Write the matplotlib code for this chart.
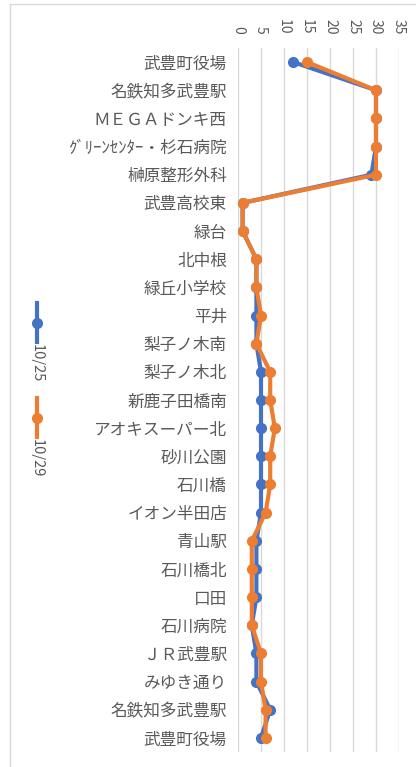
import matplotlib
matplotlib.use("Agg")
import matplotlib.pyplot as plt
from matplotlib.lines import Line2D

plt.rcParams['font.family'] = ['Noto Sans CJK JP', 'DejaVu Sans']

stops = ["武豊町役場", "名鉄知多武豊駅", "ＭＥＧＡドンキ西", "ｸﾞﾘｰﾝｾﾝﾀｰ・杉石病院",
         "榊原整形外科", "武豊高校東", "緑台", "北中根", "緑丘小学校", "平井",
         "梨子ノ木南", "梨子ノ木北", "新鹿子田橋南", "アオキスーパー北", "砂川公園",
         "石川橋", "イオン半田店", "青山駅", "石川橋北", "口田", "石川病院",
         "ＪＲ武豊駅", "みゆき通り", "名鉄知多武豊駅", "武豊町役場"]
v1025 = [12, 30, 30, 30, 29, 1, 1, 4, 4, 4, 4, 5, 5, 5, 5, 5, 5, 4, 4, 4, 3, 4, 4, 7, 5]
v1029 = [15, 30, 30, 30, 30, 1, 1, 4, 4, 5, 4, 7, 7, 8, 7, 7, 6, 3, 3, 3, 3, 5, 5, 6, 6]
series_names = ["10/25", "10/29"]
xticks = [0, 5, 10, 15, 20, 25, 30, 35]

W, H = 416, 767
fig = plt.figure(figsize=(W / 100, H / 100), dpi=100)
fig.patch.set_facecolor("white")

def fx(px):
    return px / W

def fy(py):
    return 1 - py / H

ax = fig.add_axes([fx(238), fy(752), fx(399) - fx(238), fy(48) - fy(752)])
ypos = list(range(len(stops)))
blue, orange = "#4472C4", "#ED7D31"
ax.plot(v1025, ypos, color=blue, lw=3, marker="o", ms=7, zorder=3, solid_joinstyle="round")
ax.plot(v1029, ypos, color=orange, lw=3, marker="o", ms=7, zorder=4, solid_joinstyle="round")

ax.set_xlim(0, 35)
ax.set_ylim(len(stops) - 0.5, -0.5)
ax.set_xticks(xticks)
ax.set_xticklabels([str(t) for t in xticks], rotation=-90, fontsize=10, color="#595959")
ax.xaxis.tick_top()
ax.tick_params(axis="x", length=0, pad=10)
ax.set_yticks(ypos)
ax.set_yticklabels(stops, fontsize=12, color="#595959")
ax.tick_params(axis="y", length=0, pad=8)
ax.grid(axis="x", color="#d9d9d9", lw=1)
ax.set_axisbelow(True)
for s in ax.spines.values():
    s.set_visible(False)

# chart border (partially cropped)
fig.add_artist(Line2D([fx(10), fx(W)], [fy(4), fy(4)], color="#d9d9d9", lw=1))
fig.add_artist(Line2D([fx(10), fx(10)], [fy(4), fy(H)], color="#d9d9d9", lw=1))

# rotated legend
for name, col, ytop in [(series_names[0], blue, 303), (series_names[1], orange, 398)]:
    fig.add_artist(Line2D([fx(37), fx(37)], [fy(ytop), fy(ytop + 39)], color=col, lw=3))
    fig.add_artist(Line2D([fx(37)], [fy(ytop + 20)], color=col, marker="o", ms=7, lw=0))
    fig.text(fx(37), fy(ytop + 41), name, rotation=-90, ha="center", va="top",
             fontsize=10.5, color="#595959")

fig.savefig("out.png", dpi=100)
